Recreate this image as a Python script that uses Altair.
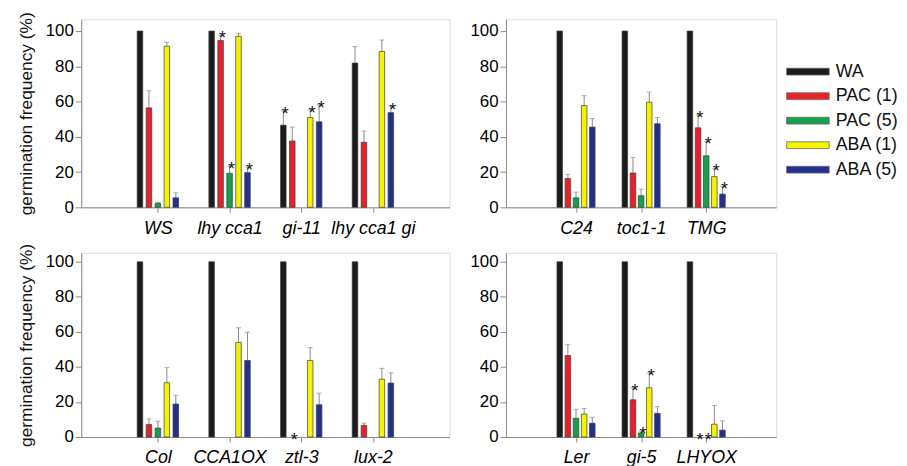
import altair as alt
import pandas as pd

SERIES = ["WA", "PAC (1)", "PAC (5)", "ABA (1)", "ABA (5)"]
COLORS = ["#1b1b1b", "#e8202a", "#16a04c", "#f6f300", "#23308f"]

# Panel A (top left)
A_GROUPS = ["WS", "lhy cca1", "gi-11", "lhy cca1 gi"]
A_MEAN = [[100, 56.4, 2.2, 91.4, 5.4],
          [100, 94.6, 19.3, 97.0, 19.7],
          [46.6, 37.6, 0, 50.9, 48.5],
          [81.8, 36.9, 0, 88.4, 53.7]]
A_ERR = [[0, 9.7, 0.6, 2.2, 2.8],
         [0, 3.0, 4.1, 1.7, 3.1],
         [8.1, 7.9, 0, 4.5, 9.7],
         [9.4, 6.4, 0, 6.5, 3.4]]
A_STAR = [[0, 0, 0, 0, 0],
          [0, 1, 1, 0, 1],
          [1, 0, 0, 1, 1],
          [0, 0, 0, 0, 1]]

# Panel B (top right)
B_GROUPS = ["C24", "toc1-1", "TMG"]
B_MEAN = [[100, 16.3, 5.4, 57.7, 45.5],
          [100, 19.5, 6.6, 59.6, 47.4],
          [100, 45.1, 29.2, 17.4, 7.5]]
B_ERR = [[0, 2.4, 3.2, 5.6, 4.9],
         [0, 8.8, 3.7, 5.8, 3.5],
         [0, 7.3, 8.1, 4.7, 4.3]]
B_STAR = [[0, 0, 0, 0, 0],
          [0, 0, 0, 0, 0],
          [0, 1, 1, 1, 1]]

# Panel C (bottom left)
C_GROUPS = ["Col", "CCA1OX", "ztl-3", "lux-2"]
C_MEAN = [[100, 7.1, 5.1, 31.0, 18.8],
          [100, 0, 0, 54.0, 43.7],
          [100, 0, 0, 43.7, 18.4],
          [100, 6.6, 0, 33.0, 30.8]]
C_ERR = [[0, 3.2, 3.9, 8.6, 5.0],
         [0, 0, 0, 8.3, 16.1],
         [0, 0, 0, 7.3, 6.6],
         [0, 1.3, 0, 6.2, 5.8]]
C_STAR = [[0, 0, 0, 0, 0],
          [0, 0, 0, 0, 0],
          [0, 1, 0, 0, 0],
          [0, 0, 0, 0, 0]]

# Panel D (bottom right)
D_GROUPS = ["Ler", "gi-5", "LHYOX"]
D_MEAN = [[100, 46.5, 10.7, 13.1, 7.9],
          [100, 21.2, 2.3, 28.1, 13.5],
          [100, 0, 0, 7.3, 3.9]]
D_ERR = [[0, 6.2, 5.1, 3.2, 3.4],
         [0, 6.8, 1.1, 8.5, 3.8],
         [0, 0, 0, 10.7, 5.3]]
D_STAR = [[0, 0, 0, 0, 0],
          [0, 1, 1, 1, 0],
          [0, 1, 1, 0, 0]]

Y_TICKS = [0, 20, 40, 60, 80, 100]

FONT = "Liberation Sans"
GRAY = "#8a8a8a"


def frame(groups, mean, err, star):
    rows = []
    for g, name in enumerate(groups):
        for s, ser in enumerate(SERIES):
            m = mean[g][s]
            e = err[g][s]
            rows.append(dict(group=name, series=ser, pos=g + 1 + (s - 2) * 0.125,
                             mean=m, top=m + e, err=e, star=star[g][s]))
    return pd.DataFrame(rows)


def panel(groups, mean, err, star, width, height, ymax, ytitle):
    df = frame(groups, mean, err, star)
    n = len(groups)
    label_expr = "[" + ",".join("'" + g + "'" for g in groups) + "][datum.value-1]"
    xaxis = alt.Axis(values=list(range(1, n + 1)), labelExpr=label_expr, grid=False,
                     labelFont=FONT, labelFontSize=18, labelFontStyle="italic",
                     labelColor="black", tickColor=GRAY, domainColor=GRAY,
                     tickSize=5, labelPadding=7, labelOverlap=False)
    yargs = dict(values=Y_TICKS, grid=False, labelFont=FONT,
                 labelFontSize=17, labelColor="black", tickColor=GRAY,
                 domainColor=GRAY, tickSize=6, labelPadding=2, labelOverlap=False,
                 labelFlush=False)
    if ytitle:
        yargs.update(titleFont=FONT, titleFontSize=17.5, titleFontWeight="normal",
                     titleColor="#111", titlePadding=10)
    yaxis = alt.Axis(**yargs)
    xscale = alt.Scale(domain=[0, n + 1], nice=False, zero=False)
    yscale = alt.Scale(domain=[0, ymax], nice=False)
    ttl = ytitle if ytitle else None

    def X():
        return alt.X("pos:Q", scale=xscale, axis=xaxis, title=None)

    def Y(field):
        if ttl:
            return alt.Y(field, scale=yscale, axis=yaxis, title=ttl)
        return alt.Y(field, scale=yscale, axis=yaxis, title=None)

    color = alt.Color("series:N", scale=alt.Scale(domain=SERIES, range=COLORS), legend=None)
    base = alt.Chart(df)
    bars = base.transform_filter("datum.mean > 0").mark_bar(
        size=5.6, stroke="#3a3a3a", strokeWidth=0.7).encode(x=X(), y=Y("mean:Q"), color=color)
    errs = base.transform_filter("datum.err > 0").mark_rule(
        color=GRAY, strokeWidth=1).encode(x=X(), y=Y("mean:Q"), y2="top:Q")
    caps = base.transform_filter("datum.err > 0").mark_tick(
        color=GRAY, orient="horizontal", size=5, thickness=1).encode(x=X(), y=Y("top:Q"))
    stars = base.transform_filter("datum.star == 1").mark_text(
        text="*", font=FONT, fontSize=18, color="#111", baseline="alphabetic",
        dx=2, dy=9).encode(x=X(), y=Y("top:Q"))
    return alt.layer(errs, caps, bars, stars).properties(width=width, height=height)


pA = panel(A_GROUPS, A_MEAN, A_ERR, A_STAR, 372, 190, 106.7, "germination frequency (%)")
pB = panel(B_GROUPS, B_MEAN, B_ERR, B_STAR, 273, 190, 106.7, "")
pC = panel(C_GROUPS, C_MEAN, C_ERR, C_STAR, 372, 186, 105.1, "germination frequency (%)")
pD = panel(D_GROUPS, D_MEAN, D_ERR, D_STAR, 273, 186, 105.1, "")

leg_df = pd.DataFrame({"series": SERIES, "idx": list(range(len(SERIES)))})
leg_y = alt.Y("idx:Q", scale=alt.Scale(domain=[-2.14, 5.535], reverse=True, nice=False, zero=False), axis=None)
leg_base = alt.Chart(leg_df)
swatch = leg_base.mark_point(
    shape="M-1,-0.16H1V0.16H-1Z", size=1849, filled=True, opacity=1,
    stroke="#6a6a6a", strokeWidth=0.8).encode(
    x=alt.value(30), y=leg_y,
    fill=alt.Fill("series:N", scale=alt.Scale(domain=SERIES, range=COLORS), legend=None))
labels = leg_base.mark_text(align="left", baseline="middle", font=FONT, fontSize=18,
                            color="#111").encode(x=alt.value(58), y=leg_y, text="series:N")
legend = alt.layer(swatch, labels).properties(
    width=108, height=190, view=alt.ViewBackground(stroke="transparent"))

top = alt.hconcat(alt.hconcat(pA, pB, spacing=19), legend, spacing=0)
bottom = alt.hconcat(pC, pD, spacing=19)

chart = alt.vconcat(top, bottom, spacing=4).properties(
    padding={"left": 9, "top": 0, "right": 0, "bottom": 0}
).configure_view(stroke=GRAY, strokeWidth=1).configure(background="white")

chart.save("out.html", embed_options={"renderer": "svg", "actions": False})
